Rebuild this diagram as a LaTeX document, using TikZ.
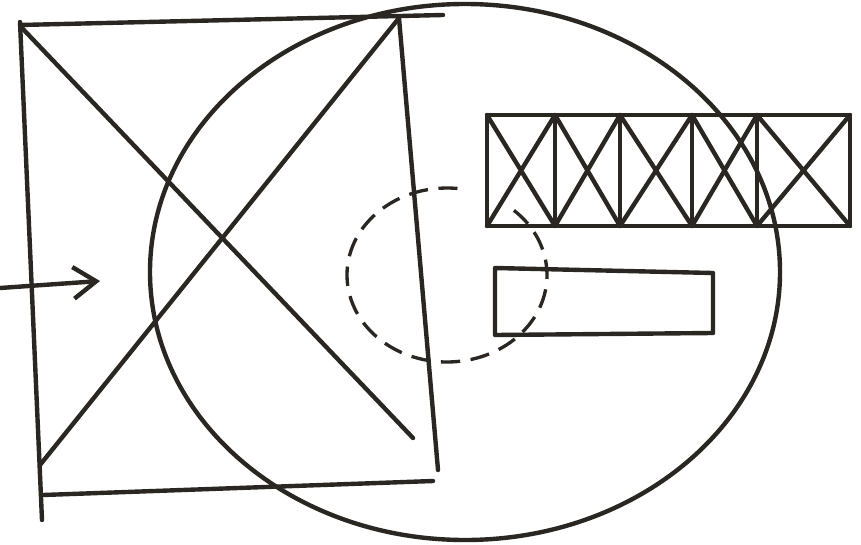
\documentclass[tikz,border=0pt]{standalone}
\usepackage{xcolor}
\usepackage{tikz}
\usetikzlibrary{arrows.meta}
\definecolor{skt@ink}{RGB}{42,38,34}

\begin{document}
\begin{tikzpicture}[x=0.02cm,y=-0.02cm,
  ink/.style={draw=skt@ink,line width=2.5pt,line cap=round,line join=round},
  hidden/.style={draw=skt@ink,line width=1.9pt,dash pattern=on 11pt off 6pt},
  feedin/.style={ink,-{Straight Barb[length=13pt,width=18pt,line width=2.5pt]}}
]
\useasboundingbox (0,0) rectangle (861,544);

% large circle
\coordinate (disc) at (465,272);
\draw[ink] (disc) ellipse [x radius=315,y radius=268];

% crossed frame
\coordinate (tl) at (20,22);
\coordinate (tr) at (399,18);
\coordinate (br) at (438,470);
\coordinate (bl) at (42,520);
\draw[ink] (20,25) -- (443,15);
\draw[ink] (tl) -- (bl);
\draw[ink] (tr) -- (br);
\draw[ink] (43,495) -- (433,481);
\draw[ink] (22,28) -- (413,438);
\draw[ink] (40,465) -- (tr);

% row of crossed cells
\foreach \xa/\xb in {487/555,555/620,620/692,692/757,757/850}{
  \draw[ink] (\xa,115) rectangle (\xb,226);
  \draw[ink] (\xa,115) -- (\xb,226) (\xa,226) -- (\xb,115);
}

% bar
\draw[ink] (495,268) -- (713,273) -- (713,333) -- (495,335) -- cycle;

% dashed hub
\coordinate (hub) at (447,275);
\draw[hidden] (hub) ++(312:100 and 87) arc[start angle=312,end angle=636,x radius=100,y radius=87];

% inflow
\coordinate (src) at (0,288);
\coordinate (dst) at (100,281);
\draw[feedin] (src) -- (dst);
\end{tikzpicture}
\end{document}
